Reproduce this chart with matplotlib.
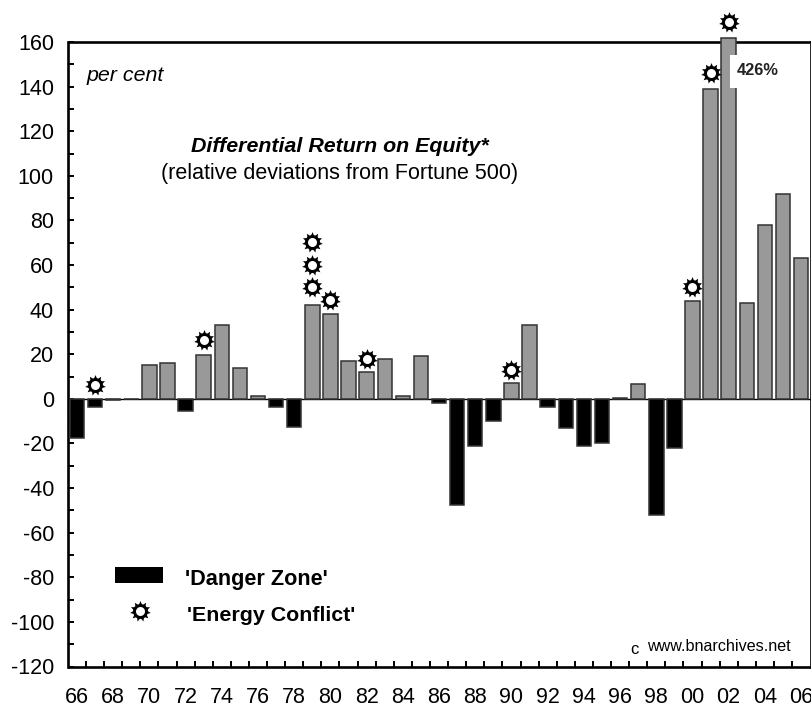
import numpy as np
import matplotlib
matplotlib.use("Agg")
import matplotlib.pyplot as plt
from matplotlib.path import Path

plt.rcParams['font.family'] = ['Liberation Sans', 'DejaVu Sans']
plt.rcParams['axes.unicode_minus'] = False

years = np.arange(1966, 2007)
values = [-17.5, -3.5, -0.5, 0, 15, 16, -5.5, 19.5, 33, 14, 1.5, -3.5, -12.5, 42, 38, 17, 12, 18, 1.5, 19,
          -2, -47.5, -21, -10, 7, 33, -3.5, -13, -21, -20, 0.5, 6.5, -52, -22, 44, 139, 162, 43, 78, 92, 63]
conflict_years = [1967, 1973, 1979, 1979, 1979, 1980, 1982, 1990, 2000, 2001, 2002]
conflict_vals = [6, 26.5, 50, 60, 70.5, 44.5, 18, 13, 50, 146, 169]
year_labels = ["66", "68", "70", "72", "74", "76", "78", "80", "82", "84", "86", "88", "90", "92", "94", "96", "98", "00", "02", "04", "06"]
ytick_vals = np.arange(-120, 161, 20)
yminor_vals = np.arange(-110, 160, 20)

W, H = 812, 706
fig = plt.figure(figsize=(W / 100, H / 100), dpi=100)
ax = fig.add_axes([68.5 / W, 1 - 666.5 / H, (810.5 - 68.5) / W, (666.5 - 42) / H])

colors = ['black' if v < 0 else '#999999' for v in values]
bars = ax.bar(years, values, width=0.8, color=colors, edgecolor='#333333', linewidth=1.1, clip_on=False, zorder=2)

# white notch where the 426% bar is cut
ax.bar([2002.3], [14.8], bottom=[139.2], width=0.5, color='white', zorder=3)
ax.text(2002.42, 147, "426%", fontsize=11.8, fontweight='bold', ha='left', va='center', color='#222222', zorder=4)

spiky = Path.unit_regular_star(11, innerCircle=0.62)


def conflict(x, y):
    ax.scatter(x, y, s=225, marker=spiky, color='black', linewidths=0, clip_on=False, zorder=5)
    ax.scatter(x, y, s=115, marker='o', color='black', linewidths=0, clip_on=False, zorder=5)
    ax.scatter(x, y, s=42, marker='o', color='white', linewidths=0, clip_on=False, zorder=6)


conflict(conflict_years, conflict_vals)

ax.set_xlim(1965.53, 2006.52)
ax.set_ylim(-120, 160)
ax.set_xticks(years[::2])
ax.set_xticklabels(year_labels)
ax.set_xticks(years[:-1] + 0.5, minor=True)
ax.set_yticks(ytick_vals)
ax.set_yticks(yminor_vals, minor=True)
ax.tick_params(axis='both', which='both', direction='in', length=4, width=1.4, labelsize=15.5, color='black')
ax.tick_params(axis='x', which='major', length=0, pad=14.5)
ax.tick_params(axis='y', which='major', pad=10.5)
for sp in ax.spines.values():
    sp.set_linewidth(1.9)
    sp.set_zorder(1.5)

ax.axhline(0, color='black', linewidth=1, zorder=1)

ax.text(1966.55, 145, "per cent", fontsize=15.4, fontstyle='italic', ha='left', va='center')
ax.text(1980.5, 113, "Differential Return on Equity*", fontsize=15.4, fontweight='bold', fontstyle='italic', ha='center', va='center')
ax.text(1980.5, 101, "(relative deviations from Fortune 500)", fontsize=15.5, ha='center', va='center')

ax.bar([1969.43], [-7], bottom=[-75.5], width=2.65, color='black', zorder=3)
conflict([1969.5], [-95.3])
ax.text(1971.95, -81, "'Danger Zone'", fontsize=15.6, fontweight='bold', ha='left', va='center')
ax.text(1972.1, -97, "'Energy Conflict'", fontsize=15.4, fontweight='bold', ha='left', va='center')
ax.text(1996.55, -112.5, "c", fontsize=12, ha='left', va='center')
ax.text(1997.5, -111, "www.bnarchives.net", fontsize=11.6, ha='left', va='center')

fig.savefig("out.png", dpi=100)
